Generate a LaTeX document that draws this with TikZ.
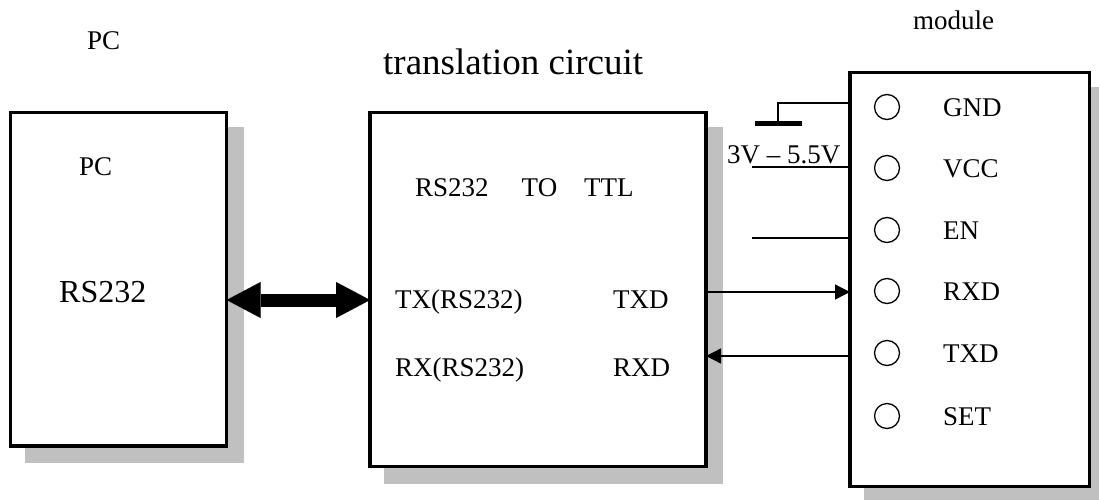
\documentclass[tikz,border=0pt]{standalone}
\usepackage{fontspec}
\setmainfont{Liberation Serif}
\usetikzlibrary{arrows.meta,backgrounds}
\definecolor{shadowgray}{RGB}{192,192,192}
\begin{document}
\begin{tikzpicture}[x=1pt,y=-1pt,
  box/.style={draw, line width=3.3pt, fill=white, inner sep=0pt, outer sep=0pt},
  lbl/.style={inner sep=0pt, anchor=base west, font=\fontsize{27}{32}\selectfont},
  pin/.style={circle, draw, line width=1.3pt, minimum size=25pt, inner sep=0pt},
  wire/.style={line width=1.3pt},
  sig/.style={wire, -{Triangle[length=15pt,width=15pt]}},
  bus/.style={line width=13pt, {Triangle[length=34pt,width=36pt,line width=0.01pt]}-{Triangle[length=34pt,width=36pt,line width=0.01pt]}}]
\useasboundingbox (0,0) rectangle (1099,500);
\clip (0,0) rectangle (1099,500);

% boxes
\node[box, minimum width=216pt, minimum height=333.3pt] (pc) at (118.7,279.35) {};
\node[box, minimum width=336pt, minimum height=354pt] (mid) at (538,289.7) {};
\node[box, minimum width=239.3pt, minimum height=414pt] (mod) at (969.65,279.7) {};

\begin{scope}[on background layer]
  \foreach \b in {pc,mid,mod}
    \fill[shadowgray] ([shift={(13.85,13.85)}]\b.north west) rectangle ([shift={(17.15,17.15)}]\b.south east);
\end{scope}

% titles
\node[lbl] (pctitle) at (87,50) {PC};
\node[lbl, font=\fontsize{37}{44}\selectfont] (trtitle) at (383,75) {translation circuit};
\node[lbl] (modtitle) at (913,30) {module};

% PC contents
\node[lbl] (pcname) at (79,175) {PC};
\node[lbl, font=\fontsize{32}{38}\selectfont] (pcrs) at (59,302) {RS232};

% translation circuit contents
\node[lbl] (conv) at (415,196) {RS232\hspace{33pt}TO\hspace{27pt}TTL};
\node[lbl] (txrs) at (395,308) {TX(RS232)};
\node[lbl] (txd) at (613,308) {TXD};
\node[lbl] (rxrs) at (395,376) {RX(RS232)};
\node[lbl] (rxd) at (613,376) {RXD};

% module pins
\foreach \n/\y/\t in {gnd/107/GND, vcc/168/VCC, en/230/EN, mrxd/291/RXD, mtxd/353/TXD, set/416/SET}{
  \node[pin] (\n) at (887,\y) {};
  \node[lbl] (\n-l) at (943,\y+9.3) {\t};
}

% power / ground
\coordinate (gndc) at (778,123);
\coordinate (gndy) at (0,103);
\coordinate (barL) at (755,123);
\coordinate (barR) at (802,123);
\draw[line width=5pt] (barL) -- (barR);
\draw[wire] (gndc) |- (mod.west |- gndy);
\node[lbl] (vrange) at (727,163) {3V – 5.5V};
\coordinate (vccend) at (752,167);
\draw[wire] (vccend) -- (mod.west |- vccend);
\coordinate (enend) at (752,238);
\draw[wire] (enend) -- (mod.west |- enend);

% signals
\coordinate (ty) at (0,292);
\coordinate (ry) at (0,356);
\draw[sig] (mid.east |- ty) -- (mod.west |- ty);
\draw[sig] (mod.west |- ry) -- (mid.east |- ry);

% RS232 bus
\coordinate (dy) at (0,300);
\draw[bus] (pc.east |- dy) -- (mid.west |- dy);
\end{tikzpicture}
\end{document}
